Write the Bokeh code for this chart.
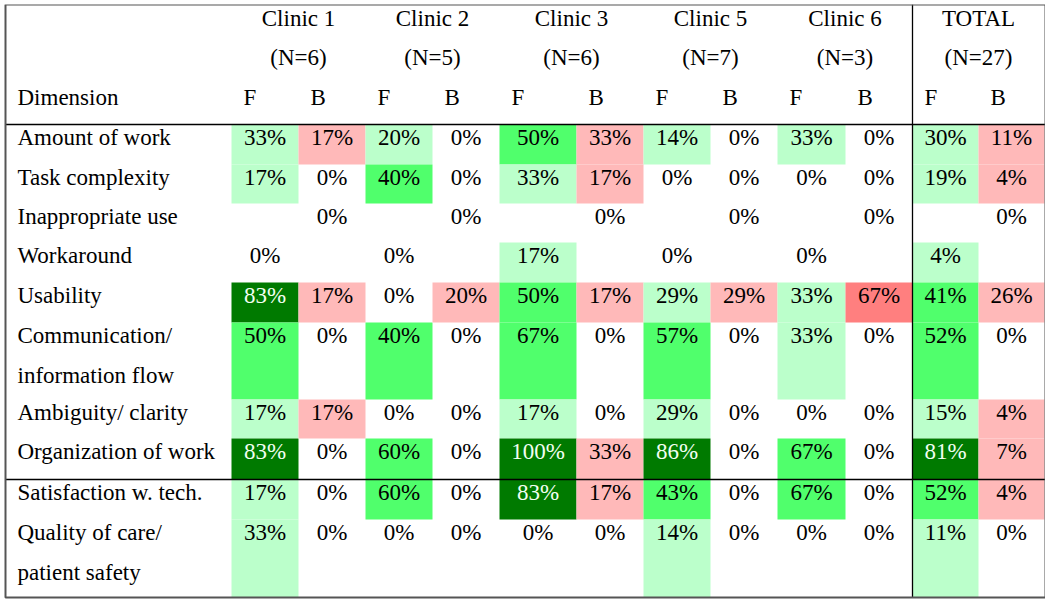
from bokeh.plotting import figure
from bokeh.models import Range1d
from bokeh.core.properties import value
from bokeh.embed import file_html
from bokeh.resources import INLINE

# ---------------- data ----------------
clinics = ["Clinic 1", "Clinic 2", "Clinic 3", "Clinic 5", "Clinic 6", "TOTAL"]
n_sizes = [6, 5, 6, 7, 3, 27]
sub_headers = ["F", "B"]
dimensions = ["Amount of work", "Task complexity", "Inappropriate use", "Workaround",
              "Usability", "Communication/\ninformation flow", "Ambiguity/ clarity",
              "Organization of work", "Satisfaction w. tech.",
              "Quality of care/\npatient safety"]
N = None
f_clinic1 = [33, 17, N, 0, 83, 50, 17, 83, 17, 33]
b_clinic1 = [17, 0, 0, N, 17, 0, 17, 0, 0, 0]
f_clinic2 = [20, 40, N, 0, 0, 40, 0, 60, 60, 0]
b_clinic2 = [0, 0, 0, N, 20, 0, 0, 0, 0, 0]
f_clinic3 = [50, 33, N, 17, 50, 67, 17, 100, 83, 0]
b_clinic3 = [33, 17, 0, N, 17, 0, 0, 33, 17, 0]
f_clinic5 = [14, 0, N, 0, 29, 57, 29, 86, 43, 14]
b_clinic5 = [0, 0, 0, N, 29, 0, 0, 0, 0, 0]
f_clinic6 = [33, 0, N, 0, 33, 33, 0, 67, 67, 0]
b_clinic6 = [0, 0, 0, N, 67, 0, 0, 0, 0, 0]
f_total = [30, 19, N, 4, 41, 52, 15, 81, 52, 11]
b_total = [11, 4, 0, N, 26, 0, 4, 7, 4, 0]

columns = [f_clinic1, b_clinic1, f_clinic2, b_clinic2, f_clinic3, b_clinic3,
           f_clinic5, b_clinic5, f_clinic6, b_clinic6, f_total, b_total]

# ---------------- layout (pixel grid) ----------------
col_edges = [231, 298, 365, 432, 499, 576, 643, 710, 777, 845, 912, 978, 1044]
row_edges = [124, 164, 203, 242, 282, 322, 399, 438, 479, 519, 597]
box_l, box_r, box_t, box_b = 5, 1045, 4, 597
label_x = 17
base_off = 13
line_pitch = 39.5
header_baselines = [17.5, 56.5, 96.5]
hdr_indent = 12
FONT = value("Liberation Serif")
FSIZE = "23px"

F_LIGHT, F_MED, F_DARK = "#BBFFCB", "#50FF6C", "#007A00"
B_LIGHT, B_MED = "#FFB9B9", "#FF7F7F"


def cell_color(kind, v):
    if v is None or v == 0:
        return None
    if kind == "F":
        if v < 40:
            return F_LIGHT
        if v < 80:
            return F_MED
        return F_DARK
    return B_LIGHT if v < 50 else B_MED


p = figure(width=1042, height=597, output_backend="svg", toolbar_location=None,
           x_range=Range1d(3, 1045), y_range=Range1d(601, 4),
           min_border=0, outline_line_color=None,
           styles={"margin-left": "3px", "margin-top": "4px"})
p.axis.visible = False
p.grid.visible = False
p.background_fill_color = "white"
p.border_fill_color = "white"

# colored cells
ql, qr, qt, qb, qc = [], [], [], [], []
tx, ty, tt, tc = [], [], [], []
for ci, col in enumerate(columns):
    kind = "F" if ci % 2 == 0 else "B"
    for ri, v in enumerate(col):
        if v is None:
            continue
        c = cell_color(kind, v)
        if c is not None:
            ql.append(col_edges[ci]); qr.append(col_edges[ci + 1])
            qt.append(row_edges[ri]); qb.append(row_edges[ri + 1])
            qc.append(c)
        tx.append((col_edges[ci] + col_edges[ci + 1]) / 2)
        ty.append(row_edges[ri] + base_off)
        tt.append(f"{v}%")
        tc.append("#F2FFF2" if c == F_DARK else "black")

p.quad(left=ql, right=qr, top=qt, bottom=qb, fill_color=qc, line_color=None)

# lines
p.segment(x0=[box_l, box_l], x1=[box_r, box_r],
          y0=[row_edges[0], row_edges[8]], y1=[row_edges[0], row_edges[8]],
          line_color="black", line_width=1.3)
p.segment(x0=[col_edges[10]], x1=[col_edges[10]], y0=[box_t], y1=[box_b],
          line_color="black", line_width=1.3)
p.quad(left=[box_l], right=[box_r], top=[box_t], bottom=[box_b],
       fill_color=None, line_color="#555555", line_width=2)

# cell texts
p.text(x=tx, y=ty, text=tt, text_color=tc, text_align="center",
       text_baseline="alphabetic", text_font=FONT, text_font_size=FSIZE)

# dimension labels
lx, ly, lt = [], [], []
for ri, d in enumerate(dimensions):
    for li, line in enumerate(d.split("\n")):
        lx.append(label_x)
        ly.append(row_edges[ri] + base_off + li * line_pitch)
        lt.append(line)
p.text(x=lx, y=ly, text=lt, text_color="black", text_align="left",
       text_baseline="alphabetic", text_font=FONT, text_font_size=FSIZE)

# headers
hx, hy, ht = [], [], []
for k, (name, n) in enumerate(zip(clinics, n_sizes)):
    center = (col_edges[2 * k] + col_edges[2 * k + 2]) / 2
    hx += [center, center]
    hy += [header_baselines[0], header_baselines[1]]
    ht += [name, f"(N={n})"]
p.text(x=hx, y=hy, text=ht, text_color="black", text_align="center",
       text_baseline="alphabetic", text_font=FONT, text_font_size=FSIZE)

sx, sy, st = [label_x], [header_baselines[2]], ["Dimension"]
for ci in range(len(columns)):
    sx.append(col_edges[ci] + hdr_indent)
    sy.append(header_baselines[2])
    st.append(sub_headers[ci % 2])
p.text(x=sx, y=sy, text=st, text_color="black", text_align="left",
       text_baseline="alphabetic", text_font=FONT, text_font_size=FSIZE)

open("out.html", "w").write(file_html(p, INLINE))
